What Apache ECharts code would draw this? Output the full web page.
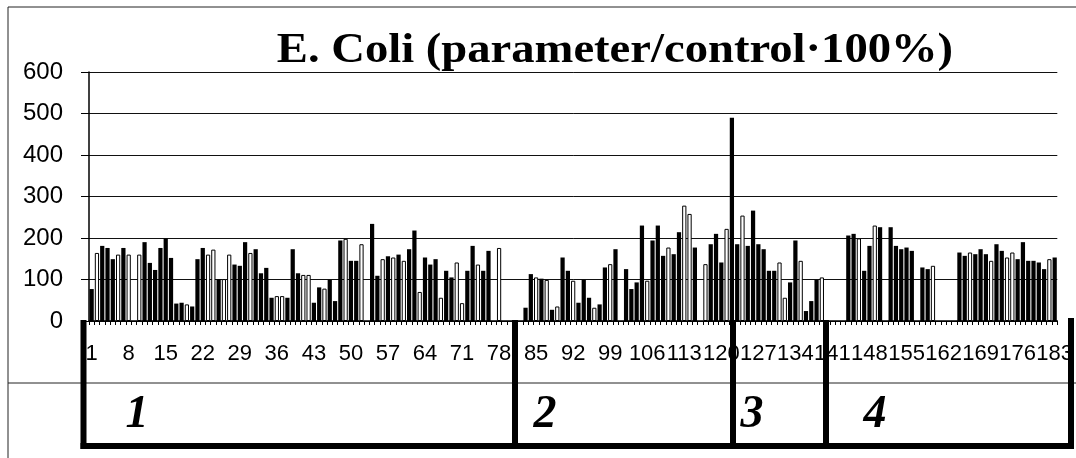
<!DOCTYPE html>
<html>
<head>
<meta charset="utf-8">
<script src="https://cdn.jsdelivr.net/npm/echarts@6/dist/echarts.min.js"></script>
<style>
  html, body { margin: 0; padding: 0; background: #fff; }
  #chart { width: 1076px; height: 458px; }
</style>
</head>
<body>
<div id="chart"></div>
<script>
// values per sample number (1..183), null = no measurement
var values = [
  77, 164, 181, 176, 149, 160, 176, 160, null, 160,
  190, 140, 123, 176, 199, 152, 42, 44, 40, 35,
  149, 176, 160, 172, 101, 101, 160, 136, 133, 190,
  164, 173, 115, 128, 56, 60, 60, 56, 173, 115,
  111, 111, 44, 81, 78, 99, 48, 194, 198, 145,
  145, 185, null, 234, 109, 149, 156, 153, 160, 145,
  173, 218, 70, 153, 136, 149, 56, 121, 105, 141,
  43, 121, 181, 136, 121, 169, null, 176, null, null,
  null, null, 32, 113, 105, 102, 99, 27, 35, 153,
  121, 97, 44, 99, 56, 32, 40, 129, 137, 173,
  null, 125, 77, 93, 230, 97, 194, 230, 157, 177,
  161, 214, 278, 258, 177, null, 137, 185, 210, 141,
  222, 490, 185, 254, 181, 266, 185, 173, 121, 121,
  141, 56, 93, 194, 145, 24, 48, 99, 105, null,
  null, null, null, 206, 210, 199, 121, 181, 230, 226,
  null, 226, 181, 173, 177, 169, null, 129, 125, 133,
  null, null, null, null, 165, 157, 165, 161, 173, 161,
  145, 185, 169, 153, 165, 149, 190, 145, 145, 141,
  125, 149, 153
];

// sample numbers drawn as the second (hollow) series
var hollowSamples = [
  2, 6, 8, 10, 19, 23, 24, 26, 27, 31, 36, 37, 41, 42, 45, 49, 52, 56, 58, 60,
  63, 67, 70, 71, 74, 78, 85, 87, 89, 92, 96, 99, 106, 110, 113, 114, 117, 121,
  124, 131, 132, 135, 139, 146, 149, 160, 167, 171, 174, 175, 182
];

var groupLabels = ['1', '2', '3', '4'];
var yTicks = { min: 0, max: 600, step: 100 };
var titleText = 'E. Coli (parameter/control\u00b7100%)';

var categories = values.map(function (v, i) { return String(i + 1); });
var filled = values.map(function (v, i) { return hollowSamples.indexOf(i + 1) >= 0 ? null : v; });
var hollow = values.map(function (v, i) { return hollowSamples.indexOf(i + 1) >= 0 ? v : null; });

var chart = echarts.init(document.getElementById('chart'), null, { renderer: 'canvas' });

var SERIF = '"Liberation Serif", "Times New Roman", serif';
var SANS = '"Liberation Sans", Arial, sans-serif';

// frame + group boxes under the axis (drawn like the original spreadsheet)
var thick = { stroke: '#000', lineWidth: 6 };
var thin = { stroke: '#222', lineWidth: 1 };
function line(x1, y1, x2, y2, style) {
  return { type: 'line', shape: { x1: x1, y1: y1, x2: x2, y2: y2 }, style: style, z: 100, silent: true };
}
function boxLabel(txt, x) {
  return {
    type: 'text', z: 100, silent: true,
    style: {
      text: txt, x: x, y: 415, fill: '#000',
      font: 'italic bold 46px ' + SERIF,
      textAlign: 'center', textVerticalAlign: 'middle', align: 'center', verticalAlign: 'middle'
    }
  };
}

var option = {
  animation: false,
  backgroundColor: '#fff',
  grid: { left: 89, right: 9, top: 72, bottom: 137, containLabel: false },
  xAxis: {
    type: 'category',
    data: categories,
    axisLine: { lineStyle: { color: '#000', width: 1.5 } },
    axisTick: { show: true, interval: 0, length: 4, lineStyle: { color: '#000' } },
    axisLabel: { interval: 6, margin: 22, color: '#000', fontFamily: SANS, fontSize: 22 },
    splitLine: { show: false }
  },
  yAxis: {
    type: 'value', min: yTicks.min, max: yTicks.max, interval: yTicks.step,
    axisLine: { show: true, lineStyle: { color: '#000', width: 1.5 } },
    axisTick: { show: true, length: 8, lineStyle: { color: '#000' } },
    axisLabel: { margin: 26, color: '#000', fontFamily: SANS, fontSize: 24 },
    splitLine: { lineStyle: { color: '#111', width: 1 } }
  },
  series: [
    {
      name: 'filled', type: 'bar', data: filled,
      barCategoryGap: '20%', barGap: '-100%',
      itemStyle: { color: '#000' }
    },
    {
      name: 'hollow', type: 'bar', data: hollow,
      barCategoryGap: '20%', barGap: '-100%',
      itemStyle: { color: '#fff', borderColor: '#000', borderWidth: 1 }
    }
  ],
  graphic: [
    // title, stretched a little wider like the source picture
    {
      type: 'text', x: 615, y: 51, scaleX: 1.11, z: 100, silent: true,
      style: {
        text: titleText, x: 0, y: 0, fill: '#000',
        font: 'bold 42px ' + SERIF,
        textAlign: 'center', textVerticalAlign: 'middle', align: 'center', verticalAlign: 'middle'
      }
    },
    line(8, 7, 1076, 7, thin),
    line(8, 7, 8, 458, thin),
    line(8, 383, 1076, 383, thin),
    line(83.5, 320, 83.5, 449, thick),
    line(515, 320, 515, 449, thick),
    line(733, 320, 733, 449, thick),
    line(826, 320, 826, 449, thick),
    line(1071, 318, 1071, 449, thick),
    line(80.5, 446, 1074, 446, thick),
    boxLabel(groupLabels[0], 137),
    boxLabel(groupLabels[1], 545),
    boxLabel(groupLabels[2], 752),
    boxLabel(groupLabels[3], 875)
  ]
};

chart.setOption(option);
</script>
</body>
</html>
